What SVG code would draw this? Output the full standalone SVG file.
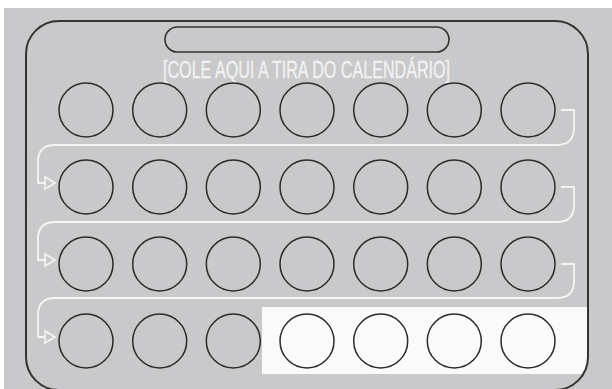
<svg xmlns="http://www.w3.org/2000/svg" width="612" height="389" viewBox="0 0 612 389">
<style>
.day{fill:none;stroke:#2b2b2b;stroke-width:1.5}
.dayw{fill:#fafafa;stroke:#2b2b2b;stroke-width:1.5}
.con{fill:none;stroke:#f4f4f4;stroke-width:1.8;stroke-linejoin:round}
.lbl{font-family:"Liberation Sans",Arial,sans-serif;font-size:23px;fill:#f2f2f2;stroke:#f2f2f2;stroke-width:0.3}
</style>
<defs>
<marker id="arr" viewBox="0 0 14 14" refX="2" refY="7" markerWidth="14" markerHeight="14" markerUnits="userSpaceOnUse" orient="auto">
<path d="M2,1 L12,7 L2,13 Z" fill="#c9c9cb" stroke="#f4f4f4" stroke-width="1.6" stroke-linejoin="miter"/>
</marker>
<clipPath id="frameClip"><rect x="26" y="21" width="562" height="369" rx="33"/></clipPath>
</defs>
<rect x="0" y="0" width="612" height="389" fill="#ffffff"/>
<rect x="4" y="8" width="608" height="381" fill="#c9c9cb"/>
<rect x="262" y="307" width="327" height="67" fill="#fafafa" clip-path="url(#frameClip)"/>
<g id="frame">
<rect x="26" y="21" width="562" height="369" rx="33" fill="none" stroke="#333" stroke-width="2"/>
</g>
<g id="slot">
<rect x="165" y="27" width="284" height="25" rx="12.5" fill="none" stroke="#333" stroke-width="1.6"/>
<text class="lbl" x="163" y="77.5" textLength="287" lengthAdjust="spacingAndGlyphs">[COLE AQUI A TIRA DO CALENDÁRIO]</text>
</g>
<g id="connectors">
<path class="con" marker-end="url(#arr)" d="M561,110 H574 V128 Q574,145 557,145 H55 Q38,145 38,162 V183 H45"/>
<path class="con" marker-end="url(#arr)" d="M561,187 H574 V205 Q574,222 557,222 H55 Q38,222 38,239 V260 H45"/>
<path class="con" marker-end="url(#arr)" d="M561,264 H574 V281 Q574,298 557,298 H55 Q38,298 38,315 V337 H45"/>
</g>
<g id="row1">
<circle id="d1" class="day" cx="86" cy="110" r="27"/>
<circle id="d2" class="day" cx="159.7" cy="110" r="27"/>
<circle id="d3" class="day" cx="233.3" cy="110" r="27"/>
<circle id="d4" class="day" cx="307" cy="110" r="27"/>
<circle id="d5" class="day" cx="380.7" cy="110" r="27"/>
<circle id="d6" class="day" cx="454.3" cy="110" r="27"/>
<circle id="d7" class="day" cx="528" cy="110" r="27"/>
</g>
<g id="row2">
<circle id="d8" class="day" cx="86" cy="187" r="27"/>
<circle id="d9" class="day" cx="159.7" cy="187" r="27"/>
<circle id="d10" class="day" cx="233.3" cy="187" r="27"/>
<circle id="d11" class="day" cx="307" cy="187" r="27"/>
<circle id="d12" class="day" cx="380.7" cy="187" r="27"/>
<circle id="d13" class="day" cx="454.3" cy="187" r="27"/>
<circle id="d14" class="day" cx="528" cy="187" r="27"/>
</g>
<g id="row3">
<circle id="d15" class="day" cx="86" cy="264" r="27"/>
<circle id="d16" class="day" cx="159.7" cy="264" r="27"/>
<circle id="d17" class="day" cx="233.3" cy="264" r="27"/>
<circle id="d18" class="day" cx="307" cy="264" r="27"/>
<circle id="d19" class="day" cx="380.7" cy="264" r="27"/>
<circle id="d20" class="day" cx="454.3" cy="264" r="27"/>
<circle id="d21" class="day" cx="528" cy="264" r="27"/>
</g>
<g id="row4">
<circle id="d22" class="day" cx="86" cy="341" r="27"/>
<circle id="d23" class="day" cx="159.7" cy="341" r="27"/>
<circle id="d24" class="day" cx="233.3" cy="341" r="27"/>
<circle id="d25" class="dayw" cx="307" cy="341" r="27"/>
<circle id="d26" class="dayw" cx="380.7" cy="341" r="27"/>
<circle id="d27" class="dayw" cx="454.3" cy="341" r="27"/>
<circle id="d28" class="dayw" cx="528" cy="341" r="27"/>
</g>
</svg>
